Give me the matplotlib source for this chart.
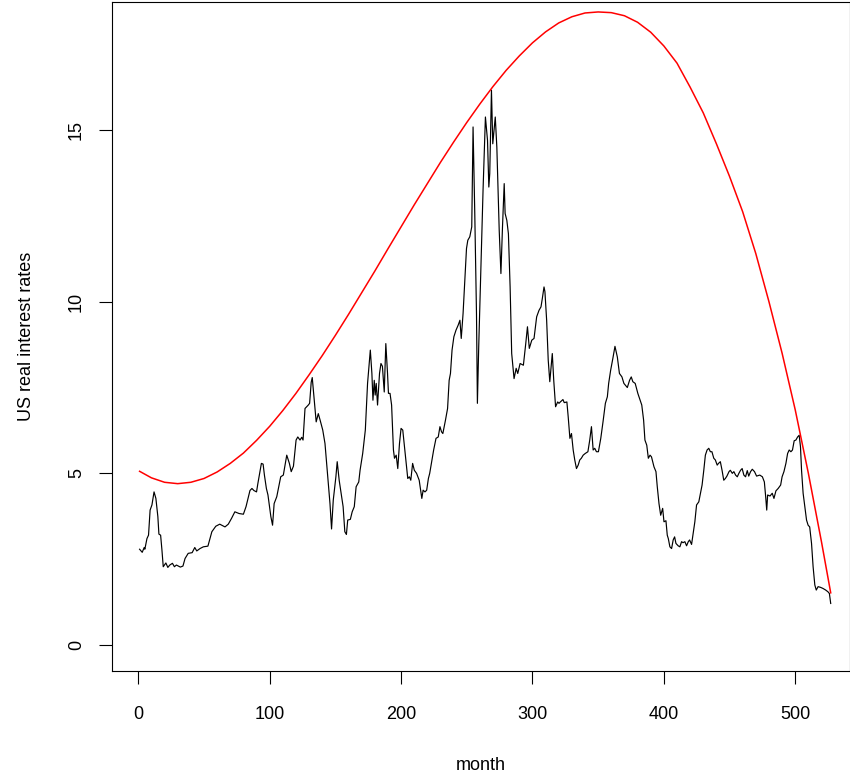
import matplotlib
matplotlib.use("Agg")
import matplotlib.pyplot as plt

plt.rcParams['font.family'] = ['Liberation Sans', 'DejaVu Sans']

# --- black series: month, rate ---
months = [1, 3, 4.5, 5, 6.6, 7.8, 9, 10.4, 12, 13.4, 14.9, 15.7, 17, 18, 19, 21, 22.5, 24, 26, 27.5,
          29, 32, 34, 35.6, 38, 41, 43, 44.5, 47, 49.5, 53, 56, 59, 62, 66, 68.5, 71, 73.5, 76.7, 80,
          82, 85, 86.5, 88, 90, 91, 93.7, 95, 96, 97.5, 98.7,
          100.9, 102.2, 103.4, 105.4, 106.4, 108.4, 110.4, 113, 115, 116.4, 118.1, 120.1, 121.4, 123.1,
          124.4, 125.4, 126.9, 129.4, 130.4, 131.6, 132.4, 133.4, 135.4, 137, 138.4, 140.4, 142.1,
          143.8, 145.9, 147.1, 148.4, 150.4, 151.4, 152.9, 154.4, 155.9, 157.2, 158.4, 159.4,
          161.4, 162.8, 164.4, 165.8, 167.8, 168.8, 170.8, 172.8, 174.5, 176.6, 177.8, 178.6, 179.6,
          180.3, 181.1, 182.1, 183.6, 184.7, 185.8, 187.2, 188.4, 189.7, 190.4, 191.6, 192.8, 194.2,
          195, 196.3, 197.5, 198.8, 200, 201.3, 202.6, 203.6, 205.1, 206.3, 207.4, 208.8, 210.1,
          211.8, 213.8, 215.8, 216.8, 218.2, 219.5, 220.8, 221.8, 223.3, 224.8, 226.6, 228.3, 229.6,
          230.8, 231.8, 233.8, 235.4, 236.6, 237.6, 238.8, 240.2, 241.8,
          243.5, 244.8, 245.8, 247.2, 249.8, 250.8, 252.3, 253.8, 254.8, 256.1, 257.4, 258.1, 259.1,
          261.2, 262.4, 264.2, 265.8, 266.8, 267.5, 268.8, 269.8, 271.7, 272.9, 274.7, 276, 277.2,
          278.5, 279.2, 280.5, 281.7, 283, 284.2, 286, 287.6, 288.8, 290.6, 293.1, 294.9, 296.2,
          297.6, 299.5, 301.2, 303.2, 305, 306.5, 307.5, 308.8,
          309.5, 310.8, 312, 313.2, 315.1, 316.2, 317.6, 319.2, 320.2, 321.2, 323.2, 324.2, 326.2,
          327.2, 328.5, 329.7, 331, 332.2, 333.5, 334.8, 336, 337.2, 338.6, 340.2, 342.2, 343.6,
          344.9, 346.2, 347.4, 348.7, 350.2, 352, 353.7, 355.5, 357, 358, 359.5, 361.2, 362.8, 364.6,
          366.2, 368.1, 369.6, 370.7, 372.2, 373.9, 375.2, 376.4, 378.2, 380.2,
          383.2, 384.6, 385.6, 387, 388.2, 389.5, 390.6, 392.5, 394, 395, 396.3, 397.6, 399.1, 400.1,
          401.6, 402.6, 403.4, 404.6, 405.9, 407.1, 408.2, 409.2, 410.9, 412.2, 413.5, 414.6, 416,
          417.3, 418.6, 419.6, 421.1, 422.3, 423.6, 424.9, 426.6, 427.9, 429.1, 430.4, 431.6, 432.9,
          434.2, 435.4, 436.6, 438, 439.2, 440.6, 441.6, 443, 444.3, 445.6, 446.8, 448, 449.6, 450.6,
          452.1, 453.3, 454.6, 455.9, 457.1, 458.4, 459.6, 460.9, 462.2, 463.5, 464.6, 466, 467.3,
          469, 470.6,
          473, 475, 476.5, 477.5, 478.3, 479, 480.8, 482.5, 483.8, 485.3, 487, 488.9, 490, 491.4,
          492.9, 494.2, 495.4, 496.7, 497.9, 499.2, 500.5, 501.8, 503, 504, 504.8, 506, 507.3, 508.6,
          509.8, 511, 512.4, 513.6, 514.9, 516, 517.4, 519.2, 521, 523.2, 524.9, 526, 527]

rates = [2.79, 2.70, 2.84, 2.79, 3.10, 3.20, 3.93, 4.08, 4.46, 4.27, 3.74, 3.23, 3.20, 2.77, 2.28, 2.39, 2.26, 2.33, 2.38, 2.28,
         2.33, 2.27, 2.30, 2.52, 2.67, 2.69, 2.84, 2.74, 2.81, 2.86, 2.88, 3.30, 3.46, 3.52, 3.44, 3.52, 3.69, 3.88, 3.83, 3.81,
         4.03, 4.50, 4.56, 4.50, 4.46, 4.70, 5.29, 5.27, 4.95, 4.56, 4.37,
         3.74, 3.49, 4.12, 4.32, 4.51, 4.90, 4.95, 5.53, 5.29, 5.05, 5.21, 5.97, 6.06, 5.97,
         6.05, 5.97, 6.89, 6.99, 7.04, 7.65, 7.79, 7.37, 6.50, 6.74, 6.55, 6.26, 5.87,
         5.09, 4.12, 3.38, 4.22, 4.90, 5.34, 4.80, 4.42, 4.03, 3.30, 3.22, 3.64,
         3.66, 3.88, 4.03, 4.61, 4.75, 5.09, 5.58, 6.26, 7.62, 8.59, 7.91, 7.13, 7.71,
         7.28, 7.62, 6.99, 7.91, 8.20, 8.12, 7.37, 8.78, 7.91, 7.33, 7.33, 6.99, 5.68,
         5.44, 5.53, 5.14, 5.87, 6.31, 6.26, 5.77, 5.39, 4.85, 4.90, 4.80, 5.29, 5.09,
         5.00, 4.80, 4.27, 4.51, 4.46, 4.51, 4.85, 5.00, 5.34, 5.68, 6.02, 6.06, 6.36,
         6.21, 6.16, 6.55, 6.89, 7.71, 7.91, 8.59, 8.98, 9.17,
         9.32, 9.46, 8.93, 9.66, 11.55, 11.79, 11.89, 12.18, 15.09, 12.57, 9.66, 7.04, 8.69,
         11.60, 13.25, 15.38, 14.70, 13.34, 13.73, 16.16, 14.60, 15.38, 14.50, 12.08, 10.82, 12.18,
         13.44, 12.57, 12.37, 11.98, 10.43, 8.49, 7.76, 8.06, 7.91, 8.20, 8.15, 8.78, 9.27,
         8.64, 8.88, 8.93, 9.56, 9.75, 9.85, 10.09, 10.43,
         10.29, 9.46, 8.30, 7.67, 8.49, 7.71, 6.94, 7.08, 7.04, 7.08, 7.15, 7.06, 7.08,
         6.65, 6.02, 6.16, 5.68, 5.39, 5.14, 5.24, 5.39, 5.44, 5.53, 5.58, 5.63, 5.97,
         6.36, 5.68, 5.73, 5.63, 5.63, 6.02, 6.50, 7.04, 7.23, 7.62, 8.00, 8.35, 8.70, 8.39,
         7.91, 7.81, 7.62, 7.57, 7.50, 7.71, 7.81, 7.67, 7.62, 7.33,
         6.99, 6.55, 5.97, 5.82, 5.44, 5.53, 5.48, 5.19, 5.05, 4.61, 4.12, 3.78, 3.98, 3.59,
         3.62, 3.20, 3.10, 2.86, 2.81, 3.06, 3.15, 2.96, 2.89, 2.86, 3.01, 2.98, 3.01,
         2.89, 3.01, 3.06, 2.93, 3.25, 3.59, 4.08, 4.17, 4.42, 4.66, 5.09, 5.53, 5.68,
         5.73, 5.63, 5.63, 5.44, 5.39, 5.24, 5.29, 5.34, 5.09, 4.80, 4.85, 4.92, 5.05, 5.09,
         5.00, 5.05, 4.95, 4.90, 5.00, 5.09, 5.14, 4.95, 4.90, 5.08, 4.92, 5.05, 5.12,
         5.05, 4.92,
         4.95, 4.90, 4.75, 4.32, 3.93, 4.37, 4.34, 4.42, 4.27, 4.49, 4.56, 4.66, 4.90, 5.05,
         5.29, 5.58, 5.68, 5.63, 5.68, 5.95, 5.97, 6.06, 6.11, 5.77, 5.09, 4.42, 4.03, 3.64,
         3.49, 3.44, 2.96, 2.28, 1.75, 1.60, 1.70, 1.68, 1.65, 1.60, 1.55, 1.50, 1.21]

# --- red curve: month, value ---
curve_months = [1, 10, 20, 30, 40, 50, 60, 70, 80, 90, 100, 110, 120, 130, 140, 150, 160, 170,
                180, 190, 200, 210, 220, 230, 240, 250, 260, 270, 280, 290, 300, 310, 320, 330,
                340, 350, 360, 370, 380, 390, 400, 410, 420, 430, 440, 450, 460, 470, 480, 490,
                500, 510, 520, 527]
curve_values = [5.06, 4.87, 4.74, 4.70, 4.74, 4.85, 5.04, 5.29, 5.59, 5.96, 6.37, 6.83, 7.33,
                7.87, 8.43, 9.02, 9.63, 10.26, 10.89, 11.54, 12.18, 12.82, 13.44, 14.06, 14.65,
                15.22, 15.76, 16.27, 16.74, 17.16, 17.54, 17.86, 18.12, 18.30, 18.41, 18.44,
                18.42, 18.33, 18.14, 17.85, 17.45, 16.95, 16.25, 15.50, 14.60, 13.65, 12.62,
                11.40, 10.00, 8.50, 6.85, 5.00, 3.00, 1.52]

x_ticks = [0, 100, 200, 300, 400, 500]
y_ticks = [0, 5, 10, 15]

W, H = 850, 778
fig = plt.figure(figsize=(W / 100, H / 100), dpi=100)
left, right, top, bottom = 112, 849.5, 2, 671
ax = fig.add_axes([left / W, 1 - bottom / H, (right - left) / W, (bottom - top) / H])

ax.plot(months, rates, color='black', lw=0.85)
ax.plot(curve_months, curve_values, color='red', lw=1.1)

ax.set_xlim(-20.0, 541.3)
ax.set_ylim(-0.757, 18.73)
ax.set_xticks(x_ticks)
ax.set_yticks(y_ticks)
ax.set_yticklabels([str(v) for v in y_ticks], rotation=90, va='center')
ax.tick_params(direction='out', length=9.5, width=0.8, labelsize=13, color='black')
ax.tick_params(axis='x', pad=16)
ax.tick_params(axis='y', pad=10)
for s in ax.spines.values():
    s.set_linewidth(0.8)
ax.set_xlabel('month', fontsize=13, labelpad=24)
ax.set_ylabel('US real interest rates', fontsize=13, labelpad=23.5)

fig.savefig('out.png', dpi=100)
